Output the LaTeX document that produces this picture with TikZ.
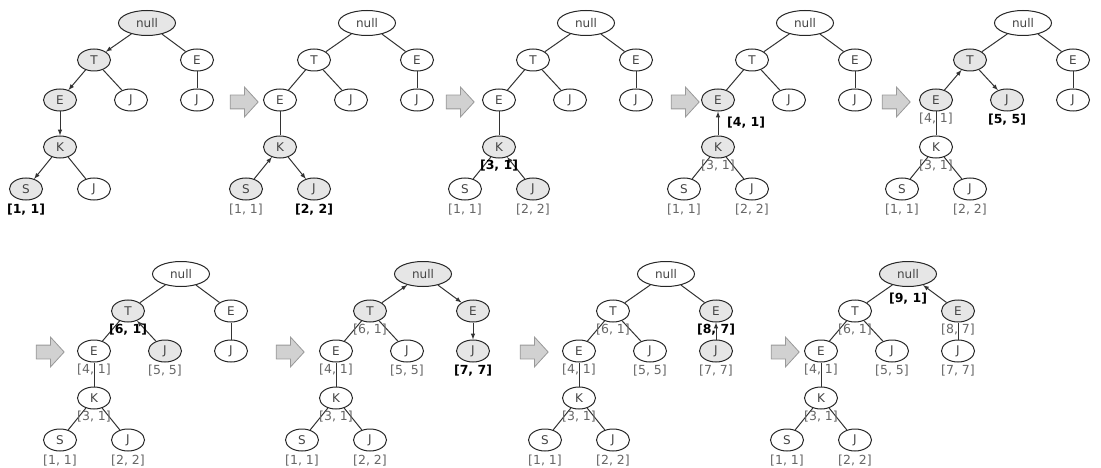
\documentclass[tikz,border=0pt]{standalone}
\usepackage{fontspec}
\setmainfont{DejaVu Sans}
\usepackage{tikz}
\usepackage{xcolor}
\usetikzlibrary{positioning}
\usetikzlibrary{shapes.geometric}
\usetikzlibrary{shapes.arrows}

\definecolor{litgray}{HTML}{E6E6E6}
\definecolor{keytext}{HTML}{444444}

\tikzset{
    key/.style={ellipse, draw=black!85, line width=1pt, fill=white, text=keytext, inner sep=0pt,
        minimum width=33pt, minimum height=22pt, font=\fontsize{12}{14}\selectfont},
    rootkey/.style={key, minimum width=57pt, minimum height=25pt},
    lit/.style={fill=litgray},
    link/.style={draw=black!80, line width=1pt},
    count/.style={inner sep=0pt, text=black!60, font=\fontsize{12.5}{14}\selectfont},
    new/.style={text=black, font=\fontsize{12.5}{14}\selectfont\bfseries},
    nextarrow/.style={single arrow, draw=black!40, fill=black!18, line width=0.8pt, inner xsep=0pt,
        inner ysep=6.5pt, minimum height=28pt, single arrow head extend=8pt, single arrow tip angle=95},
    % per step looks, changed in the options of one tree
    n root/.style={}, n t/.style={}, n er/.style={}, n e/.style={}, n jm/.style={},
    n jr/.style={}, n k/.style={}, n s/.style={}, n jb/.style={},
    l t/.style={}, l er/.style={}, l e/.style={}, l jm/.style={},
    l jr/.style={}, l k/.style={}, l s/.style={}, l jb/.style={}
}

% #1 = name of the tree, #2 = where its root sits, #3 = looks of this step
\newcommand{\drawtrie}[3]{%
    \begin{scope}[shift={(#2)}, #3]
        \node[rootkey, n root] (#1-root) at (0, 0) {null};
        \node[key, n t]  (#1-t)  at (-53, 37) {T};
        \node[key, n er] (#1-er) at (50, 37) {E};
        \node[key, n e]  (#1-e)  at (-87, 77) {E};
        \node[key, n jm] (#1-jm) at (-16, 77) {J};
        \node[key, n jr] (#1-jr) at (50, 77) {J};
        \node[key, n k]  (#1-k)  at (-87, 124) {K};
        \node[key, n s]  (#1-s)  at (-121, 166) {S};
        \node[key, n jb] (#1-jb) at (-53, 166) {J};
        \draw[link, l t]  (#1-root) -- (#1-t);
        \draw[link, l er] (#1-root) -- (#1-er);
        \draw[link, l e]  (#1-t) -- (#1-e);
        \draw[link, l jm] (#1-t) -- (#1-jm);
        \draw[link, l jr] (#1-er) -- (#1-jr);
        \draw[link, l k]  (#1-e) -- (#1-k);
        \draw[link, l s]  (#1-k) -- (#1-s);
        \draw[link, l jb] (#1-k) -- (#1-jb);
    \end{scope}}

\begin{document}
\begin{tikzpicture}[x=1pt, y=-1pt, >=latex]
    % Page at the size of the reference
    \useasboundingbox (0, 0) rectangle (1101, 468);

    % Step 1: down to S
    \drawtrie{t1}{147, 23}{n root/.style=lit, n t/.style=lit, n e/.style=lit, n k/.style=lit, n s/.style=lit,
        l t/.style={->}, l e/.style={->}, l k/.style={->}, l s/.style={->}}
    \node[count, new, below=3pt of t1-s] (t1-cs) {[1, 1]};

    \node[nextarrow] (go1) at (241, 102) {};

    % Step 2
    \drawtrie{t2}{367, 23}{n k/.style=lit, n s/.style=lit, n jb/.style=lit, l s/.style={<-}, l jb/.style={->}}
    \node[count, below=3pt of t2-s] (t2-cs) {[1, 1]};
    \node[count, new, below=3pt of t2-jb] (t2-cjb) {[2, 2]};

    \node[nextarrow] (go2) at (457, 102) {};

    % Step 3
    \drawtrie{t3}{586, 23}{n k/.style=lit, n jb/.style=lit, l jb/.style={<-}}
    \node[count, below=3pt of t3-s] (t3-cs) {[1, 1]};
    \node[count, below=3pt of t3-jb] (t3-cjb) {[2, 2]};
    \node[count, new, below=1pt of t3-k] (t3-ck) {[3, 1]};

    \node[nextarrow] (go3) at (682, 102) {};

    % Step 4
    \drawtrie{t4}{805, 23}{n e/.style=lit, n k/.style=lit, l k/.style={<-}}
    \node[count, below=3pt of t4-s] (t4-cs) {[1, 1]};
    \node[count, below=3pt of t4-jb] (t4-cjb) {[2, 2]};
    \node[count, below=1pt of t4-k] (t4-ck) {[3, 1]};
    \node[count, new, below right=5pt and 9pt of t4-e.south] (t4-ce) {[4, 1]};

    \node[nextarrow] (go4) at (893, 102) {};

    % Step 5
    \drawtrie{t5}{1023, 23}{n t/.style=lit, n e/.style=lit, n jm/.style=lit, l e/.style={<-}, l jm/.style={->}}
    \node[count, below=3pt of t5-s] (t5-cs) {[1, 1]};
    \node[count, below=3pt of t5-jb] (t5-cjb) {[2, 2]};
    \node[count, below=1pt of t5-k] (t5-ck) {[3, 1]};
    \node[count, below=1pt of t5-e] (t5-ce) {[4, 1]};
    \node[count, new, below=2pt of t5-jm] (t5-cjm) {[5, 5]};

    % Step 6
    \node[nextarrow] (go5) at (47, 352) {};

    \drawtrie{t6}{181, 274}{n t/.style=lit, n jm/.style=lit, l jm/.style={<-}}
    \node[count, below=3pt of t6-s] (t6-cs) {[1, 1]};
    \node[count, below=3pt of t6-jb] (t6-cjb) {[2, 2]};
    \node[count, below=1pt of t6-k] (t6-ck) {[3, 1]};
    \node[count, below=1pt of t6-e] (t6-ce) {[4, 1]};
    \node[count, below=2pt of t6-jm] (t6-cjm) {[5, 5]};
    \node[count, new, below=1pt of t6-t] (t6-ct) {[6, 1]};

    \node[nextarrow] (go6) at (287, 352) {};

    % Step 7
    \drawtrie{t7}{423, 274}{n root/.style=lit, n t/.style=lit, n er/.style=lit, n jr/.style=lit,
        l t/.style={<-}, l er/.style={->}, l jr/.style={->}}
    \node[count, below=3pt of t7-s] (t7-cs) {[1, 1]};
    \node[count, below=3pt of t7-jb] (t7-cjb) {[2, 2]};
    \node[count, below=1pt of t7-k] (t7-ck) {[3, 1]};
    \node[count, below=1pt of t7-e] (t7-ce) {[4, 1]};
    \node[count, below=2pt of t7-jm] (t7-cjm) {[5, 5]};
    \node[count, below=1pt of t7-t] (t7-ct) {[6, 1]};
    \node[count, new, below=2pt of t7-jr] (t7-cjr) {[7, 7]};

    \node[nextarrow] (go7) at (531, 352) {};

    % Step 8
    \drawtrie{t8}{666, 274}{n er/.style=lit, n jr/.style=lit, l jr/.style={<-}}
    \node[count, below=3pt of t8-s] (t8-cs) {[1, 1]};
    \node[count, below=3pt of t8-jb] (t8-cjb) {[2, 2]};
    \node[count, below=1pt of t8-k] (t8-ck) {[3, 1]};
    \node[count, below=1pt of t8-e] (t8-ce) {[4, 1]};
    \node[count, below=2pt of t8-jm] (t8-cjm) {[5, 5]};
    \node[count, below=1pt of t8-t] (t8-ct) {[6, 1]};
    \node[count, below=2pt of t8-jr] (t8-cjr) {[7, 7]};
    \node[count, new, below=1pt of t8-er] (t8-cer) {[8, 7]};

    \node[nextarrow] (go8) at (782, 352) {};

    % Step 9: back at the root
    \drawtrie{t9}{908, 274}{n root/.style=lit, n er/.style=lit, l er/.style={<-}}
    \node[count, below=3pt of t9-s] (t9-cs) {[1, 1]};
    \node[count, below=3pt of t9-jb] (t9-cjb) {[2, 2]};
    \node[count, below=1pt of t9-k] (t9-ck) {[3, 1]};
    \node[count, below=1pt of t9-e] (t9-ce) {[4, 1]};
    \node[count, below=2pt of t9-jm] (t9-cjm) {[5, 5]};
    \node[count, below=1pt of t9-t] (t9-ct) {[6, 1]};
    \node[count, below=2pt of t9-jr] (t9-cjr) {[7, 7]};
    \node[count, below=1pt of t9-er] (t9-cer) {[8, 7]};
    \node[count, new, below=6pt of t9-root] (t9-croot) {[9, 1]};
\end{tikzpicture}
\end{document}
